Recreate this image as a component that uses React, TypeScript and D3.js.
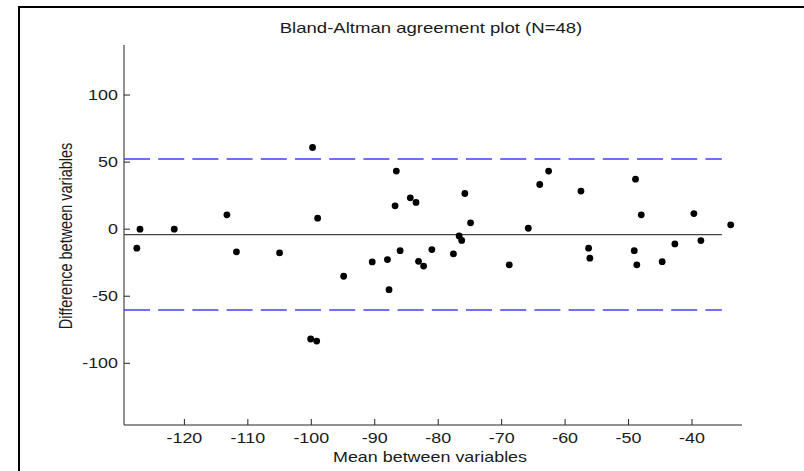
import React from "react";
import * as d3 from "d3";

// Bland-Altman agreement data: mean of the two methods vs. their difference
const meanVals: number[] = [
  -127.5, -127.0, -121.6, -113.3, -111.8, -105.0, -99.8, -99.0, -100.1, -99.15,
  -94.9, -90.4, -88.0, -87.75, -86.8, -86.6, -86.0, -84.4, -83.5, -83.1,
  -82.3, -81.0, -77.6, -76.7, -76.3, -75.8, -74.9, -68.8, -65.8, -64.0,
  -62.6, -57.5, -56.3, -56.1, -49.1, -48.9, -48.7, -48.0, -44.7, -42.7,
  -39.7, -38.6, -33.9,
];
const diffVals: number[] = [
  -14.2, 0.0, 0.0, 10.7, -16.9, -17.7, 60.9, 8.2, -81.9, -83.4,
  -35.1, -24.4, -22.7, -45.1, 17.4, 43.3, -16.0, 23.4, 19.9, -24.0,
  -27.5, -15.2, -18.4, -5.1, -8.4, 26.6, 4.7, -26.6, 0.7, 33.3,
  43.3, 28.4, -14.2, -21.6, -16.0, 37.3, -26.6, 10.7, -24.2, -11.0,
  11.6, -8.5, 3.2,
];

// Bias and limits of agreement
const bias = -4.0;
const upperLoA = 52.3;
const lowerLoA = -60.3;

const xTicks: number[] = [-120, -110, -100, -90, -80, -70, -60, -50, -40];
const yTicks: number[] = [100, 50, 0, -50, -100];
const xDomain: [number, number] = [-129.52, -32.12];
const yDomain: [number, number] = [-146, 137.3];
const refLineRange: [number, number] = [-129.52, -35.3];

const titleText = "Bland-Altman agreement plot (N=48)";
const xLabel = "Mean between variables";
const yLabel = "Difference between variables";

const W = 804;
const H = 471;
const plot = { left: 124, right: 742, top: 45, bottom: 425 };
const FONT = "'Liberation Sans', Arial, sans-serif";
const TEXT = "#1a1a1a";
const SX = 1.28; // wide glyphs

export default function App() {
  const x = d3.scaleLinear().domain(xDomain).range([plot.left, plot.right]);
  const y = d3.scaleLinear().domain(yDomain).range([plot.bottom, plot.top]);
  const refLine = d3.line<[number, number]>()
    .x((d) => x(d[0]))
    .y((d) => y(d[1]));
  const seg = (v: number) =>
    refLine([
      [refLineRange[0], v],
      [refLineRange[1], v],
    ]) as string;

  const points = meanVals.map((m, i) => ({ m, d: diffVals[i] }));

  return (
    <div style={{ position: "fixed", left: 0, top: 0 }}>
      <svg width={W} height={H} style={{ display: "block", background: "#fff" }}>
        <rect x={0} y={0} width={W} height={H} fill="#fff" />
        {/* outer frame */}
        <rect x={19} y={7} width={W + 20} height={H + 20} fill="none" stroke="#000" strokeWidth={2} />

        {/* title */}
        <text
          transform={`translate(431,33) scale(${SX},1)`}
          textAnchor="middle"
          fontFamily={FONT}
          fontSize={14.5}
          fill={TEXT}
        >
          {titleText}
        </text>

        {/* axes */}
        <line x1={plot.left} x2={plot.left} y1={plot.top} y2={plot.bottom} stroke="#222" strokeWidth={1} />
        <line x1={plot.left} x2={plot.right} y1={plot.bottom} y2={plot.bottom} stroke="#222" strokeWidth={1} />

        {yTicks.map((t) => (
          <g key={"y" + t}>
            <line x1={plot.left} x2={plot.left + 6} y1={y(t)} y2={y(t)} stroke="#222" strokeWidth={1} />
            <text
              transform={`translate(${plot.left - 6},${y(t) + 5}) scale(${SX},1)`}
              textAnchor="end"
              fontFamily={FONT}
              fontSize={14}
              fill={TEXT}
            >
              {t}
            </text>
          </g>
        ))}
        {xTicks.map((t) => (
          <g key={"x" + t}>
            <line x1={x(t)} x2={x(t)} y1={plot.bottom} y2={plot.bottom - 6} stroke="#222" strokeWidth={1} />
            <text
              transform={`translate(${x(t)},${plot.bottom + 18}) scale(${SX},1)`}
              textAnchor="middle"
              fontFamily={FONT}
              fontSize={14}
              fill={TEXT}
            >
              {t}
            </text>
          </g>
        ))}

        {/* axis labels */}
        <text
          transform={`translate(430,462) scale(${SX},1)`}
          textAnchor="middle"
          fontFamily={FONT}
          fontSize={14}
          fill={TEXT}
        >
          {xLabel}
        </text>
        <text
          transform={`translate(72,236) rotate(-90) scale(1,${SX})`}
          textAnchor="middle"
          fontFamily={FONT}
          fontSize={14.5}
          fill={TEXT}
        >
          {yLabel}
        </text>

        {/* limits of agreement and bias */}
        <path d={seg(upperLoA)} stroke="#4040ff" strokeWidth={1.4} strokeDasharray="26 8.2" fill="none" />
        <path d={seg(lowerLoA)} stroke="#4040ff" strokeWidth={1.4} strokeDasharray="26 8.2" fill="none" />
        <path d={seg(bias)} stroke="#444" strokeWidth={1.3} fill="none" />

        {/* observations */}
        {points.map((p, i) => (
          <circle key={i} cx={x(p.m)} cy={y(p.d)} r={3.4} fill="#000" />
        ))}
      </svg>
    </div>
  );
}
